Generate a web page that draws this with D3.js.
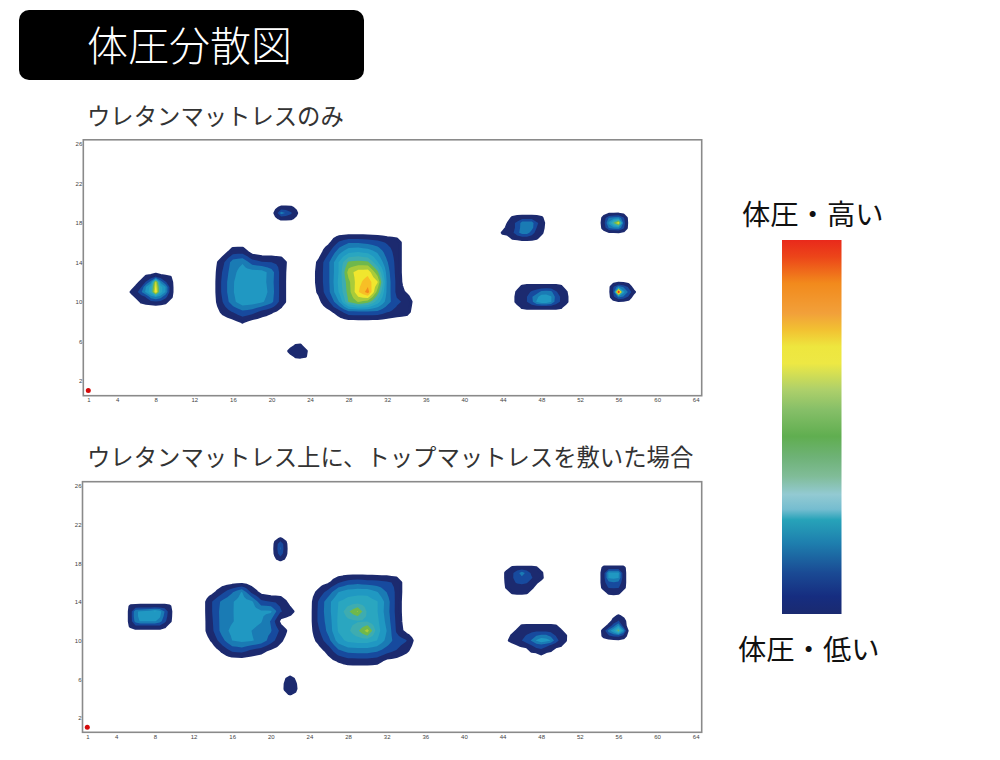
<!DOCTYPE html>
<html lang="ja">
<head>
<meta charset="utf-8">
<script src="https://cdn.jsdelivr.net/npm/d3@7/dist/d3.min.js"></script>
<style>
html,body{margin:0;padding:0;background:#fff}
svg{display:block}
text{font-family:"Noto Sans CJK JP","Noto Sans",sans-serif}
.tick text{font-family:"Liberation Sans",sans-serif}
</style>
</head>
<body>
<svg id="c" width="1000" height="760"></svg>
<script>
// Pressure readings on the 64 x 26 sensor grid. Each row: [y, first x, values...]; unlisted cells read 0.
const urethaneRows = [
  [15,15,.1,1.2,1.25,.2],[14,14,.1,1.3,3,3.4,2,1.6,1.5,1.25],[13,14,.1,1.7,3.2,4,4,4,3,1.1,.05],
  [12,14,.1,1.9,3.4,4.2,4.3,4,2.9,1.1],[11,14,.1,1.9,3.4,4.4,4.2,4.2,3,1.1],[10,14,.1,1.6,3.2,4.2,4.1,3.7,2.8,1.1],
  [9,15,.9,1.6,2.3,2,1.2,.75,.2],[8,16,.2,.75,.15],
  [16,26,.4,1.7,2.4,2.4,2.2,1.9,1.4,1.1],[15,25,.2,1.5,3.2,4.4,4.6,4.3,3.4,2,1.1],
  [14,25,.9,2.5,4.6,6.7,6.9,6.7,4.6,2.6,1.1],[13,24,.1,1,2.5,4.6,8,9,9.2,6.8,3,1.1],
  [12,24,.1,1,2.5,4.8,7.2,9.2,10,8.6,3.2,1.2],[11,24,.1,.85,2.4,4.6,7,9.4,11,7,3.2,1.2,.5],
  [10,25,.4,1.5,3.5,6.6,7.6,7,5,3,1.7,1.25,.1],[9,26,.3,1.1,2.3,2.4,2.4,2.3,1.6,1.2,1]
];
// Small contact patches, read at half-sensor steps: [y, first x, values at x, x+.5, x+1, ...]
const urethaneFine = [
  [12.5,7,.85,1.1,1.7,1.1,.85,.7],[12,6.5,.9,1.6,3,8.6,3.2,1.6,1],[11.5,6,.85,1.5,3.6,5,9,5,3.6,1.1],
  [11,5.5,.8,1.2,2.4,3.8,5.2,9.6,5,3.5,1.1],[10.5,6,.75,1.1,1.6,3,3.6,3,1.8,.9],[10,6.5,.75,1,1.2,1.4,1.2,.85],
  [19.5,20.5,.5,.9,.9,.85,.5],[19,20.5,1,3,2.4,1.7,.9],[18.5,20.5,.5,.9,.9,.85,.5],
  [5.5,22.5,.8,.9],[5,22,1.2,1.3,1.4,.9],[4.5,22.5,.8,.9,.75],
  [18.5,45,.8,1,1.1,1.1,1.1,1,.8],[18,44.5,.6,1.3,1.7,3,3.1,3,1.6,1.3],[17.5,44.5,1,1.3,1.7,3.1,3.2,2.9,1.5,1.1],
  [17,44,.8,1,1.3,2.2,3,3,2,1.1,.8],[16.5,45,.8,.9,1.1,1.1,1,.8],
  [18.5,54.5,1,2.6,3,3.2,1.8],[18,54.5,1.2,3.8,6.6,9.4,2.2],[17.5,54.5,1,2.6,3,3.2,1.8],
  [11.5,55.5,1.6,3.2,2.4,1.4],[11,55.5,1.8,14,4,2.4,1],[10.5,55.5,1.4,2.8,2.4,1.4],
  [11.5,46,.85,1,1,1,1,1,1,1,.85],[11,45.5,.8,1.2,1.3,1.6,2,2.8,3,2.8,1.6,1.2,.8],
  [10.5,45.5,1,1.2,1.5,2.4,3.2,4,4,3.6,2.2,1.4,1],[10,45.5,1,1.2,1.5,2.2,3.6,4.2,4.2,3.6,2,1.4,1],
  [9.5,46,.85,1,1,1,1,1,1,1,.85]
];
const toppedRows = [
  [15,14,.3,1.3,2.4,3.6,1.3,.2],[14,13,.2,1.6,2.8,3.4,4,3.8,1.8,1.5,1.3,.2],
  [13,13,.2,1.6,3,3.4,4.1,4.1,3.7,3.7,1.6,1],[12,13,.2,1.5,3,3.4,4,4,3.6,2.4,.2],
  [11,13,.25,1.4,3,3.8,4,3.5,3,2.6,1.3,.2],[10,14,.8,2.2,3.5,3.8,3.6,3.2,2,.8],
  [9,15,.85,1.8,2,1.4,1,.4,.05],
  [16,25,.1,.4,1.4,2,2.2,2,1.9,1.7,1.3],[15,24,.1,.9,2,3.5,4.1,4.2,4.2,3.6,2.5,1.3],
  [14,25,1.7,3.2,4.5,4.9,5.1,5,4.6,3.1,1.2],[13,25,1.8,3.2,4.6,6.3,7.6,5.3,4.6,3,1.2],
  [12,25,1.8,3,4.7,5.2,5.4,5.4,4.8,3.2,1.3],[11,24,.1,1.4,2.9,4.6,5.3,6.3,8,5,3.5,1.4,.2],
  [10,24,.1,.9,2.2,4,4.8,5,5,4.5,3.2,2,1.6,.2],[9,25,.2,1,2.4,3,3.1,3.1,2.8,2.1,1.5,.9],
  [8,26,.3,.8,1.2,1.25,1.25,1.1,.4,.3]
];
const toppedFine = [
  [13.5,5.5,.85,.95,1,1,1,1,1,1,.8],[13,5.5,1,3.4,3.6,3.8,4,4.6,4,2.5,1],[12.5,5.5,1,3.4,3.6,3.7,3.9,4,3.7,2.2,.95],
  [12,5.5,1,3,3.6,3.6,3.6,3.6,3,1.8,.85],[11.5,5.5,.8,1.3,1.3,1.3,1.3,1.3,1.3,.85],
  [20.5,20.5,.55,.75,.55],[20,20.5,.8,2.4,.8],[19.5,20.5,.85,2.6,.85],[19,20.5,.8,2.2,.8],[18.5,20.5,.55,1,.55],
  [6,21.5,.5,1.2,.5],[5.5,21.5,.72,1.3,.8],[5,21.5,.75,1.4,.9],[4.5,21.5,.5,.75,.55],
  [17.5,45,.8,.85,.85,.85,.85,.75],[17,44.5,1.1,1.3,2.1,3,2.2,1.3,1.1,.8],[16.5,44.5,1.1,1.4,1.9,2.3,2,1.6,1.1,.9],
  [16,44.5,1,1.3,1.6,1.7,1.6,1.1,.7],[15.5,44.5,.85,1,1.1,1.1,1,.85],[15,45,.8,.9,.9,.8],
  [17.5,54.5,.9,.9,.9,.9,.9],[17,54.5,1.2,3.7,3.8,3.8,1],[16.5,54.5,1.2,3.7,3.8,3.6,1],
  [16,54.5,1.2,2.2,2.4,2.2,1],[15.5,54.5,1,1.6,1.6,1.6,.9],[15,55,.9,1,.9],
  [12.5,55.5,.4,.8,.4],[12,55.5,.9,1.6,1],[11.5,55,.85,2.2,3.8,1.2],[11,54.5,1,3,4.4,7,3.6],[10.5,54.5,.9,1.4,1.8,1.9,1.3],
  [11.5,46,.75,.8,.8,.8,.8,.8,.8,.7],[11,45.5,.75,1,1.1,1.2,1.3,1.3,1.3,1.2,1,.8],
  [10.5,45,.8,1,1.2,1.6,2,2.5,2.8,2.8,2.2,1.5,1.1,.75],[10,44.5,.5,1,1.2,1.5,2,2.6,3.6,4.3,4,3.5,2,1.2,.72],
  [9.5,45.5,.5,.8,1,1.5,2,2.2,1.8,1.4,1,.75],[9,47,.9,1.1,1.3,1,.75],[8.5,48,.55]
];
const xTicks = [1,4,8,12,16,20,24,28,32,36,40,44,48,52,56,60,64];
const yTicks = [2,6,10,14,18,22,26];
const levels = [.7,1.5,2.5,3.5,4.5,5.5,6.5,7.5,8.5,9.5,10.5,11.5];
const levelColors = ["#1c2a6f","#174a9e","#1a7bb4","#2098c2","#2aa6c0","#3eacb0","#6fb84c","#a9cb3a","#f0e62e","#f7bf26","#f28e1c","#e8321a"];
const rampOffsets = [0,.045,.116,.196,.24,.285,.33,.40,.454,.525,.58,.632,.68,.72,.748,.81,.89,.953,1];
const rampColors = ["#e9291b","#ec4519","#f28a1c","#f2a03a","#f2c132","#eee63e","#ede844","#aed06a","#86bf68","#60ae50","#6eb276","#80bc98","#93cad2","#75bdd0","#27a3b9","#1e7fae","#1a4a94","#162d80","#1a2a70"];
const titleText = "体圧分散図";
const panelTitles = ["ウレタンマットレスのみ","ウレタンマットレス上に、トップマットレスを敷いた場合"];
const rampLabels = ["体圧・高い","体圧・低い"];

const COLS = 64, ROWS = 26, FC = 2*COLS-1, FR = 2*ROWS-1;
const svg = d3.select("#c");
const color = d3.scaleOrdinal(levels, levelColors);

// Half-step grid: whole-sensor rows placed and bridged, then the half-step readings written over them.
function toGrid(rows, fine){
  const c = new Array(COLS*ROWS).fill(0);
  rows.forEach(([y,x0,...vals]) => vals.forEach((v,i) => { c[(y-1)*COLS + (x0-1+i)] = v; }));
  const at = (i,j) => (i<COLS && j<ROWS) ? c[j*COLS+i] : 0;
  const g = new Array(FC*FR).fill(0);
  for(let j=0;j<FR;j++) for(let i=0;i<FC;i++){
    const i0=i>>1, j0=j>>1, i1=i0+(i&1), j1=j0+(j&1);
    g[j*FC+i]=(at(i0,j0)+at(i1,j0)+at(i0,j1)+at(i1,j1))/4;
  }
  fine.forEach(([y,x0,...vals]) => vals.forEach((v,k) => {
    g[Math.round((y-1)*2)*FC + Math.round((x0-1)*2)+k] = v;
  }));
  return g;
}

function panel(rows, fine, frame, xR, yR, labelY){
  const x = d3.scaleLinear().domain([1,64]).range(xR);
  const y = d3.scaleLinear().domain([2,26]).range(yR);
  const path = d3.geoPath().projection(d3.geoTransform({
    point(cx,cy){ this.stream.point(x(1+(cx-.5)/2), y(1+(cy-.5)/2)); }
  }));
  const contours = d3.contours().size([FC,FR]).thresholds(levels)(toGrid(rows,fine));
  svg.append("g").attr("class","bands").style("filter","blur(0.55px)")
    .selectAll("path").data(contours).join("path")
    .attr("d",path).attr("fill",d=>color(d.value))
    .attr("stroke",(d,i)=>i===0?color(d.value):"none")
    .attr("stroke-width",3).attr("stroke-linejoin","round");
  svg.append("rect").attr("x",frame[0]).attr("y",frame[1])
    .attr("width",frame[2]-frame[0]).attr("height",frame[3]-frame[1])
    .attr("fill","none").attr("stroke","#8a8a8a").attr("stroke-width",1.6);
  svg.append("circle").attr("cx",x(1)).attr("cy",y(1)).attr("r",2.5).attr("fill","#d40a0a");
  const gx = svg.append("g").attr("transform",`translate(0,${labelY-4})`)
    .call(d3.axisBottom(x).tickValues(xTicks).tickSize(0).tickPadding(2).tickFormat(d3.format("d")));
  const gy = svg.append("g").attr("transform",`translate(${frame[0]-1},0)`)
    .call(d3.axisLeft(y).tickValues(yTicks).tickSize(0).tickPadding(0).tickFormat(d3.format("d")));
  [gx,gy].forEach(g=>{
    g.select(".domain").remove();
    g.selectAll("text").attr("font-size",6).attr("fill","#444");
  });
}

panel(urethaneRows,urethaneFine,[83.3,139.8,701.7,395.7],[88.3,695.7],[380.7,144],400);
panel(toppedRows,toppedFine,[82.5,481.7,701.7,732.3],[87.3,695.7],[717.7,486],737);

// header
svg.append("rect").attr("x",19).attr("y",10).attr("width",345).attr("height",70).attr("rx",10).attr("fill","#000");
svg.append("text").attr("x",87).attr("y",43).attr("dominant-baseline","central")
  .attr("font-size",41).attr("font-weight",300).attr("fill","#fff").text(titleText);

svg.selectAll("text.pt").data(panelTitles).join("text").attr("class","pt")
  .attr("x",87).attr("y",(d,i)=>[114.5,455.5][i]).attr("dominant-baseline","central")
  .attr("font-size",23.35).attr("fill","#333").text(d=>d);

// colour ramp
const grad = svg.append("defs").append("linearGradient").attr("id","ramp")
  .attr("x1",0).attr("x2",0).attr("y1",0).attr("y2",1);
grad.selectAll("stop").data(rampOffsets).join("stop")
  .attr("offset",d=>d).attr("stop-color",(d,i)=>rampColors[i]);
svg.append("rect").attr("x",782).attr("y",240).attr("width",59.5).attr("height",374).attr("fill","url(#ramp)");

svg.selectAll("text.rl").data(rampLabels).join("text").attr("class","rl")
  .attr("x",(d,i)=>[742,738][i]).attr("y",(d,i)=>[212,647][i]).attr("dominant-baseline","central")
  .attr("font-size",28.3).attr("fill","#111").text(d=>d);
</script>
</body>
</html>
